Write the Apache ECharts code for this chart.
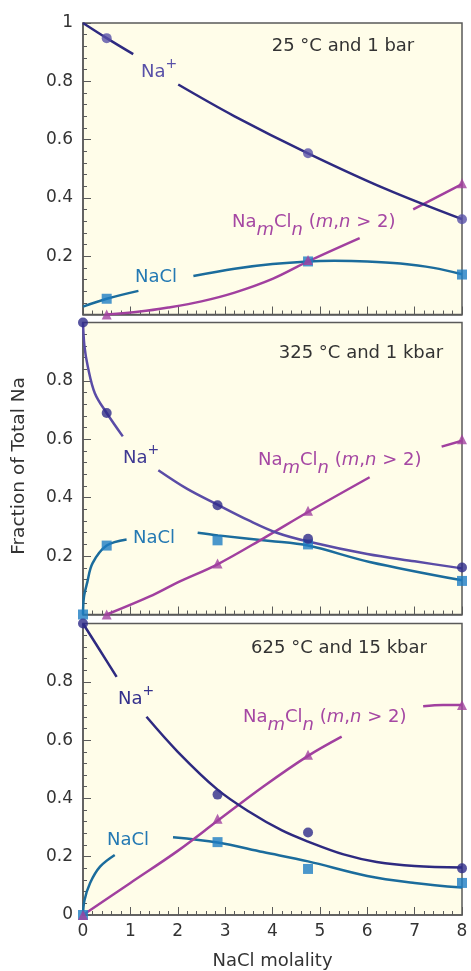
<!DOCTYPE html>
<html>
<head>
<meta charset="utf-8">
<script src="https://cdn.jsdelivr.net/npm/echarts@6/dist/echarts.min.js"></script>
<style>
html,body{margin:0;padding:0;background:#fff;}
#c{width:471px;height:971px;}
</style>
</head>
<body>
<div id="c"></div>
<script>
// ---------------- DATA ----------------
const panelTitles = ['25 °C and 1 bar', '325 °C and 1 kbar', '625 °C and 15 kbar'];
const xLabel = 'NaCl molality';
const yLabel = 'Fraction of Total Na';

// Panel 1 (25 °C, 1 bar) – measured points
const p1NaPlusPts  = [[0.5, 0.948], [4.75, 0.553], [8, 0.327]];
const p1NaClPts    = [[0.5, 0.054], [4.75, 0.182], [8, 0.137]];
const p1NamClnPts  = [[0.5, 0.0], [4.75, 0.187], [8, 0.45]];
// Panel 1 model curves (null = break behind label)
const p1NaPlusCurve = [[0, 1], [0.5, 0.948], [1.06, 0.893], null, [2.01, 0.789], [3.2, 0.68], [4.75, 0.553], [6.4, 0.43], [8, 0.327]];
const p1NaClCurve   = [[0, 0.027], [0.5, 0.054], [1.17, 0.081], null, [2.33, 0.132], [3.2, 0.157], [4.0, 0.173], [4.75, 0.182], [5.3, 0.184], [6.0, 0.182], [6.7, 0.175], [7.4, 0.16], [8, 0.138]];
const p1NamClnCurve = [[0.5, 0.0], [1.2, 0.01], [1.8, 0.024], [2.5, 0.045], [3.2, 0.075], [4.0, 0.122], [4.75, 0.182], [5.84, 0.262], null, [6.97, 0.361], [8, 0.447]];

// Panel 2 (325 °C, 1 kbar)
const p2NaPlusPts  = [[0, 1.0], [0.5, 0.69], [2.84, 0.374], [4.75, 0.259], [8, 0.161]];
const p2NaClPts    = [[0, 0.0], [0.5, 0.236], [2.84, 0.254], [4.75, 0.24], [8, 0.115]];
const p2NamClnPts  = [[0.5, 0.0], [2.84, 0.175], [4.75, 0.355], [8, 0.6]];
const p2NaPlusCurve = [[0, 1], [0.03, 0.92], [0.1, 0.85], [0.25, 0.758], [0.5, 0.69], [0.84, 0.61], null, [1.59, 0.494], [2.2, 0.43], [2.84, 0.376], [3.5, 0.322], [4.09, 0.28], [4.75, 0.25], [6, 0.207], [7, 0.182], [8, 0.158]];
const p2NaClCurve   = [[0, 0], [0.02, 0.06], [0.09, 0.11], [0.2, 0.175], [0.5, 0.236], [0.92, 0.257], null, [2.42, 0.28], [2.85, 0.271], [3.95, 0.252], [4.75, 0.236], [6.05, 0.18], [8, 0.117]];
const p2NamClnCurve = [[0.5, 0], [1.41, 0.062], [2.0, 0.11], [2.84, 0.172], [3.8, 0.26], [4.75, 0.351], [6.05, 0.47], null, [7.57, 0.575], [8, 0.595]];

// Panel 3 (625 °C, 15 kbar)
const p3NaPlusPts  = [[0, 1.0], [2.84, 0.413], [4.75, 0.283], [8, 0.16]];
const p3NaClPts    = [[0, 0.0], [2.84, 0.25], [4.75, 0.158], [8, 0.11]];
const p3NamClnPts  = [[0, 0.0], [2.84, 0.33], [4.75, 0.55], [8, 0.72]];
const p3NaPlusCurve = [[0, 1], [0.35, 0.91], [0.71, 0.817], null, [1.34, 0.68], [2, 0.56], [2.84, 0.43], [3.5, 0.355], [4.2, 0.29], [4.75, 0.252], [5.5, 0.208], [6.2, 0.182], [7, 0.168], [8, 0.163]];
const p3NaClCurve   = [[0, 0], [0.03, 0.05], [0.15, 0.11], [0.36, 0.166], [0.67, 0.206], null, [1.9, 0.267], [2.84, 0.249], [3.8, 0.216], [4.75, 0.184], [6, 0.134], [7, 0.11], [8, 0.094]];
const p3NamClnCurve = [[0, 0], [1, 0.11], [2, 0.22], [2.84, 0.323], [3.8, 0.44], [4.75, 0.546], [5.46, 0.612], null, [7.18, 0.716], [7.6, 0.72], [8, 0.72]];

// ---------------- STYLE ----------------
const FONT = 'DejaVu Sans';
const TXT = '#333333';
const AXC = '#5a5a5a';
const BG = '#FFFDE9';
const NA_DARK = '#2E2A80';
const NA_LIGHT = '#5850A8';
const NACL_LINE = '#1B6C9C';
const NACL_MARK = '#1E7DC3';
const NAMCLN = '#A1409F';

const grids = [
  {left: 83, top: 23, width: 379, height: 291.5},
  {left: 83, top: 322.5, width: 379, height: 292},
  {left: 83, top: 623.5, width: 379, height: 292}
];

const panels = [
  {na: p1NaPlusCurve, nacl: p1NaClCurve, nm: p1NamClnCurve, naP: p1NaPlusPts, naclP: p1NaClPts, nmP: p1NamClnPts, naLine: NA_DARK, naMark: NA_LIGHT},
  {na: p2NaPlusCurve, nacl: p2NaClCurve, nm: p2NamClnCurve, naP: p2NaPlusPts, naclP: p2NaClPts, nmP: p2NamClnPts, naLine: '#5A4CA6', naMark: '#2E2A8A'},
  {na: p3NaPlusCurve, nacl: p3NaClCurve, nm: p3NamClnCurve, naP: p3NaPlusPts, naclP: p3NaClPts, nmP: p3NamClnPts, naLine: NA_DARK, naMark: '#2E2A8A'}
];

function gap(arr) { return arr.map(p => p === null ? '-' : p); }

const xAxes = [], yAxes = [], series = [];
grids.forEach((g, i) => {
  const last = i === 2;
  xAxes.push({
    type: 'value', gridIndex: i, min: 0, max: 8, interval: 1,
    axisLine: {show: true, onZero: false, lineStyle: {color: AXC, width: 1.5}},
    axisTick: {show: true, inside: true, length: 8, lineStyle: {color: AXC, width: 1}},
    minorTick: {show: true, splitNumber: 5, length: 4, lineStyle: {color: AXC, width: 1}},
    splitLine: {show: false},
    axisLabel: {show: last, color: TXT, fontSize: 17, fontFamily: FONT, margin: 8},
    name: last ? xLabel : '', nameLocation: 'middle', nameGap: 37,
    nameTextStyle: {color: TXT, fontSize: 18, fontFamily: FONT}
  });
  yAxes.push({
    type: 'value', gridIndex: i, min: 0, max: 1, interval: 0.2,
    axisLine: {show: true, onZero: false, lineStyle: {color: AXC, width: 1.5}},
    axisTick: {show: true, inside: true, length: 8, lineStyle: {color: AXC, width: 1}},
    minorTick: {show: true, splitNumber: 5, length: 4, lineStyle: {color: AXC, width: 1}},
    splitLine: {show: false},
    axisLabel: {color: TXT, fontSize: 17, fontFamily: FONT, margin: 10,
      showMinLabel: i === 2, showMaxLabel: i === 0}
  });
  const p = panels[i];
  const lw = 2.5;
  const sm = 0.35;
  series.push(
    {type: 'line', xAxisIndex: i, yAxisIndex: i, data: gap(p.nacl), smooth: sm, showSymbol: false, symbol: 'none', lineStyle: {color: NACL_LINE, width: lw}, z: 2, silent: true},
    {type: 'line', xAxisIndex: i, yAxisIndex: i, data: gap(p.nm), smooth: sm, showSymbol: false, symbol: 'none', lineStyle: {color: NAMCLN, width: lw}, z: 2, silent: true},
    {type: 'line', xAxisIndex: i, yAxisIndex: i, data: gap(p.na), smooth: sm, showSymbol: false, symbol: 'none', lineStyle: {color: p.naLine, width: lw}, z: 2, silent: true},
    {type: 'scatter', xAxisIndex: i, yAxisIndex: i, data: p.naclP, symbol: 'rect', symbolSize: 10, itemStyle: {color: NACL_MARK}, clip: false, z: 4, silent: true},
    {type: 'scatter', xAxisIndex: i, yAxisIndex: i, data: p.nmP, symbol: 'triangle', symbolSize: 10, itemStyle: {color: NAMCLN}, clip: false, z: 4, silent: true},
    {type: 'scatter', xAxisIndex: i, yAxisIndex: i, data: p.naP, symbol: 'circle', symbolSize: 10, itemStyle: {color: p.naMark}, clip: false, z: 5, silent: true}
  );
});

function rich(color) {
  return {
    b:   {fontSize: 18, fontFamily: FONT, fill: color, color: color, verticalAlign: 'middle'},
    sup: {fontSize: 14, fontFamily: FONT, fill: color, color: color, verticalAlign: 'middle', padding: [0, 0, 16, 0]},
    sub: {fontSize: 18, fontFamily: FONT, fontStyle: 'italic', fill: color, color: color, verticalAlign: 'middle', padding: [16, 0, 0, 0]},
    i:   {fontSize: 18, fontFamily: FONT, fontStyle: 'italic', fill: color, color: color, verticalAlign: 'middle'}
  };
}
function label(text, x, y, color, align) {
  return {type: 'text', x: x, y: y, z: 10, silent: true,
    style: {text: text, rich: rich(color), fill: color, font: '18px "DejaVu Sans"',
      textAlign: align || 'left', align: align || 'left', textVerticalAlign: 'middle', verticalAlign: 'middle'}};
}
const naText = '{b|Na}{sup|+}';
const naclText = '{b|NaCl}';
const nmText = '{b|Na}{sub|m}{b|Cl}{sub|n}{b| (}{i|m}{b|,}{i|n}{b| > 2)}';

const graphics = [
  {type: 'text', x: 19, y: 466, rotation: Math.PI / 2, silent: true,
   style: {text: yLabel, fill: TXT, font: '18.5px "DejaVu Sans"', textAlign: 'center', align: 'center', textVerticalAlign: 'middle', verticalAlign: 'middle'}},
  {type: 'text', x: 343, y: 46, silent: true, z: 10, style: {text: panelTitles[0], fill: TXT, font: '18px "DejaVu Sans"', textAlign: 'center', align: 'center', textVerticalAlign: 'middle', verticalAlign: 'middle'}},
  {type: 'text', x: 361, y: 353, silent: true, z: 10, style: {text: panelTitles[1], fill: TXT, font: '18px "DejaVu Sans"', textAlign: 'center', align: 'center', textVerticalAlign: 'middle', verticalAlign: 'middle'}},
  {type: 'text', x: 339, y: 648, silent: true, z: 10, style: {text: panelTitles[2], fill: TXT, font: '18px "DejaVu Sans"', textAlign: 'center', align: 'center', textVerticalAlign: 'middle', verticalAlign: 'middle'}},
  label(naText, 141, 72, NA_LIGHT),
  label(naclText, 135, 277, '#2479B3'),
  label(nmText, 232, 222, '#A547A3'),
  label(naText, 123, 458, '#3E3892'),
  label(naclText, 133, 538, '#2479B3'),
  label(nmText, 258, 460, '#A547A3'),
  label(naText, 118, 699, '#34308C'),
  label(naclText, 107, 840, '#2479B3'),
  label(nmText, 243, 717, '#A547A3')
];

const chart = echarts.init(document.getElementById('c'), null, {renderer: 'canvas'});
chart.setOption({
  animation: false,
  backgroundColor: '#ffffff',
  grid: grids.map(g => Object.assign({show: true, backgroundColor: BG, borderColor: AXC, borderWidth: 1.5}, g)),
  xAxis: xAxes,
  yAxis: yAxes,
  series: series,
  graphic: graphics
});
</script>
</body>
</html>
